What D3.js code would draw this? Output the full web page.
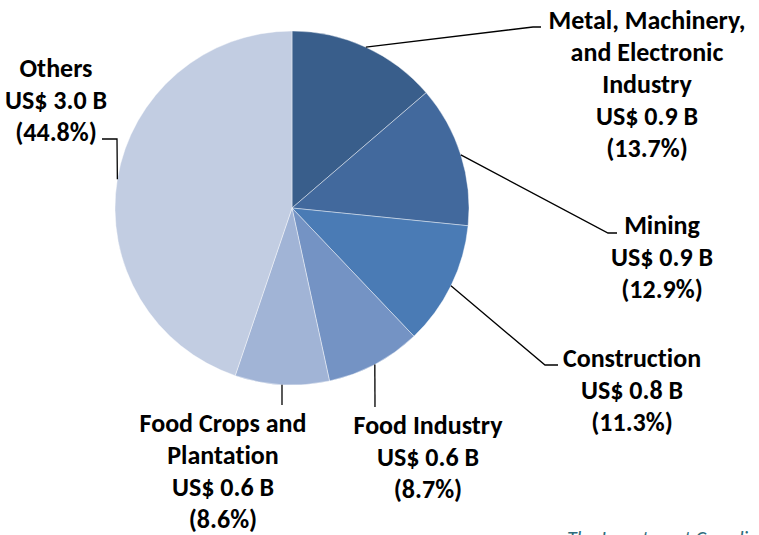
<!DOCTYPE html>
<html>
<head>
<meta charset="utf-8">
<script src="https://cdn.jsdelivr.net/npm/d3@7"></script>
<style>
  body { margin: 0; background: #fff; }
  svg { display: block; }
  .lbl { font-family: Calibri, Carlito, "Open Sans", sans-serif; font-weight: bold; font-size: 26px; fill: #000; font-variant-ligatures: none; }
  .src { font-family: Calibri, Carlito, "Open Sans", sans-serif; font-style: italic; font-size: 20px; fill: #2f6d7c; }
</style>
</head>
<body>
<svg width="759" height="535"></svg>
<script>
const sectors = [
  ['Metal, Machinery,', 'and Electronic', 'Industry'],
  ['Mining'],
  ['Construction'],
  ['Food Industry'],
  ['Food Crops and', 'Plantation'],
  ['Others']
]
const amounts = ['0.9', '0.9', '0.8', '0.6', '0.6', '3.0']
const shares = [13.7, 12.9, 11.3, 8.7, 8.6, 44.8]
const colors = ['#395e8b', '#42699d', '#4a7bb5', '#7493c4', '#a1b4d6', '#c2cde2']

// label layout: elbow point, end of leader, text anchor x / first baseline
const layout = [
  { elbow: [533, 27], end: [541, 27], tx: 647, ty: 29 },
  { elbow: [608, 233], end: [617, 233], tx: 662, ty: 234 },
  { elbow: [545, 365], end: [558, 365], tx: 632, ty: 367 },
  { elbow: null, end: [375, 407], tx: 428, ty: 434 },
  { elbow: null, end: [282, 405], tx: 223, ty: 432 },
  { elbow: [117, 139], end: [102, 139], tx: 56, ty: 77 }
]

const cx = 292, cy = 208, r = 177
const svg = d3.select('svg')
const g = svg.append('g').attr('transform', `translate(${cx}, ${cy})`)

const pie = d3.pie().sort(null).value(d => d)
const arc = d3.arc().innerRadius(0).outerRadius(r)
const arcs = pie(shares)

g.selectAll('path')
  .data(arcs)
  .enter()
  .append('path')
  .attr('d', arc)
  .attr('fill', (d, i) => colors[i])
  .attr('stroke', '#ffffff')
  .attr('stroke-opacity', 0.6)
  .attr('stroke-width', 0.7)

arcs.forEach((d, i) => {
  let a = (d.startAngle + d.endAngle) / 2
  let p0 = [cx + r * Math.sin(a), cy - r * Math.cos(a)]
  let L = layout[i]
  let pts = L.elbow ? [p0, L.elbow, L.end] : [p0, L.end]
  svg.append('path')
    .attr('d', d3.line()(pts))
    .attr('fill', 'none')
    .attr('stroke', '#000')
    .attr('stroke-width', 1.3)

  let lines = sectors[i].concat(['US$ ' + amounts[i] + ' B', '(' + shares[i].toFixed(1) + '%)'])
  let t = svg.append('text')
    .attr('class', 'lbl')
    .attr('text-anchor', 'middle')
  lines.forEach((s, k) => {
    t.append('tspan')
      .attr('x', L.tx)
      .attr('y', L.ty + k * 32)
      .text(s)
  })
})

svg.append('text')
  .attr('class', 'src')
  .attr('x', 567)
  .attr('y', 545)
  .text('The Investment Coordinating Board')
</script>
</body>
</html>
